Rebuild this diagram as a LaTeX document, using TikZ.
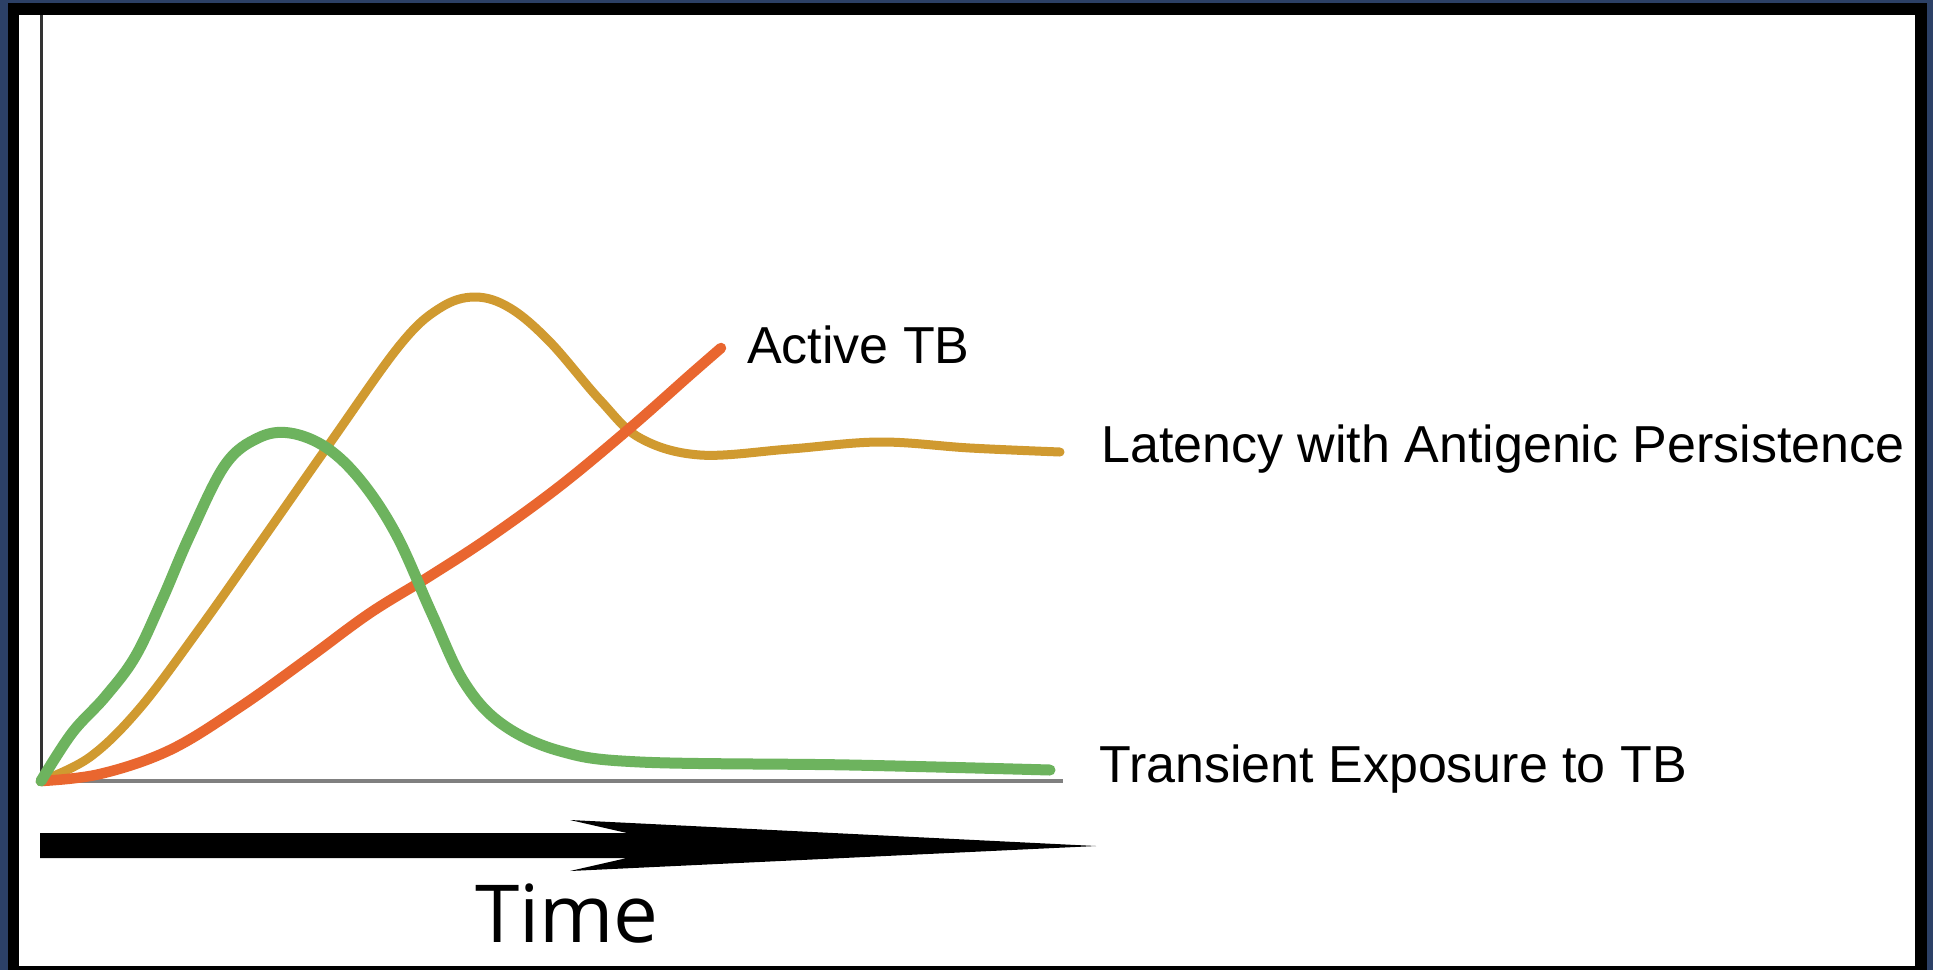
\documentclass[tikz,border=0pt]{standalone}
\usepackage{fontspec}
\setmainfont{Liberation Sans}
\newfontfamily\timefont{Open Sans}
\usepackage{tikz}
\usetikzlibrary{positioning}

\definecolor{navyedge}{RGB}{44,64,102}
\definecolor{exposuregreen}{RGB}{109,179,94}
\definecolor{latencygold}{RGB}{208,154,48}
\definecolor{activeorange}{RGB}{233,102,47}

\tikzset{
    tbcurve/.style={line width=#1, line cap=round, line join=round},
    curvelabel/.style={anchor=base west, inner sep=0pt, font=\fontsize{52}{62}\selectfont},
}

\begin{document}
\begin{tikzpicture}[x=1pt, y=-1pt]
            \fill[navyedge] (0, 0) rectangle (1933, 970);
            \fill[black] (8, 3) rectangle (1927, 970);
            \fill[white] (19, 15) rectangle (1915, 966);
            \useasboundingbox (0, 0) rectangle (1933, 970);
            \coordinate (origin) at (41, 781);
            \coordinate (ytop) at (41, 15);
            \coordinate (xend) at (1063, 781);
            \draw[black!80, line width=3pt] (origin) -- (ytop);
            \draw[black!50, line width=4.5pt] (origin) -- (xend);
            \coordinate (latencyend) at (1060, 452);
            \coordinate (activeend) at (721, 348);
            \coordinate (exposureend) at (1050, 770);
            \draw[latencygold, tbcurve=9pt] plot[smooth, tension=0.6] coordinates {(origin) (90, 757) (140, 708) (200, 628) (260, 543) (330, 443) (400, 345) (440, 308) (475, 297) (510, 308) (550, 342) (600, 400) (640, 438) (700, 455) (790, 449) (880, 442) (970, 448) (latencyend)};
            \draw[activeorange, tbcurve=10.5pt] plot[smooth, tension=0.6] coordinates {(origin) (100, 774) (170, 750) (240, 707) (310, 657) (370, 613) (430, 576) (490, 537) (560, 486) (630, 428) (690, 375) (activeend)};
            \draw[exposuregreen, tbcurve=11pt] plot[smooth, tension=0.6] coordinates {(origin) (72, 733) (105, 697) (135, 657) (162, 600) (190, 535) (225, 465) (258, 438) (290, 433) (327, 448) (362, 482) (397, 536) (432, 614) (464, 682) (502, 724) (560, 751) (640, 762) (850, 765) (exposureend)};
            \node[curvelabel] (active) at (747, 363) {Active TB};
            \node[curvelabel] (latency) at (1101, 462) {Latency with Antigenic Persistence};
            \node[curvelabel] (exposure) at (1099, 782) {Transient Exposure to TB};
            \fill[black] (40, 833) -- (627, 833) -- (570, 820) -- (1096, 846) -- (570, 871) -- (627, 858) -- (40, 858) -- cycle;
            \node[anchor=base, inner sep=0pt, font=\timefont\fontsize{80}{90}\selectfont] (time) at (567, 942) {Time};
        \end{tikzpicture}
\end{document}
